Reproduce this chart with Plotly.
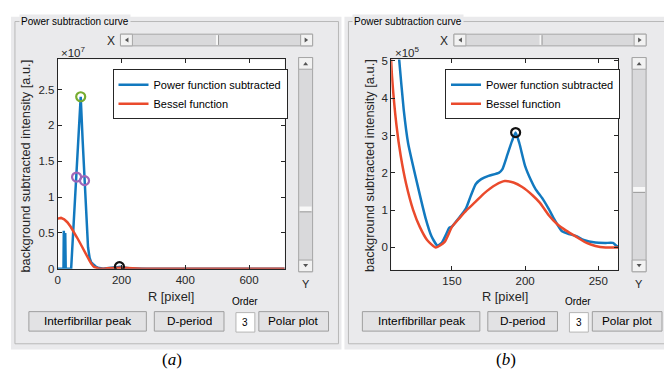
import plotly.graph_objects as go
import numpy as np

W, H = 664, 378

# ---------------- data (intensity in units of 1e5 a.u.) ----------------
r_blue = [0, 15, 18, 19, 20.5, 22, 23.5, 25, 42, 59, 65, 72, 78, 84, 90, 95, 100, 105,
          110, 114, 117, 120, 126.6, 132, 136, 140, 143, 146, 148, 150, 155, 159.5, 163,
          166.3, 170, 175, 182, 184.5, 188, 191, 193.5, 196, 200, 204, 207, 212, 216,
          220, 225, 230, 235, 240, 248, 255, 260, 263, 280, 350, 500, 712]
i_blue = [0, 0, 0, 53, 0, 0, 50, 0, 0, 128, 185, 240, 180, 123, 55, 30, 15, 9,
          6.8, 5.0, 3.7, 2.8, 1.65, 0.78, 0.3, 0.05, 0.12, 0.35, 0.52, 0.56, 0.8, 1.04, 1.4,
          1.7, 1.83, 1.92, 2.0, 2.1, 2.5, 2.85, 3.08, 2.8, 2.18, 1.8, 1.57, 1.3, 1.04,
          0.75, 0.44, 0.36, 0.3, 0.2, 0.13, 0.12, 0.12, 0.03, 0.02, 0.01, 0, 0]

r_bessel = [0, 10, 20, 30, 40, 50, 60, 70, 80, 90, 100, 105, 109, 112, 115, 118.7, 123.5,
            128, 133, 139, 145, 150, 155, 160, 166, 172, 180, 186, 192, 198, 205, 210,
            216, 222, 228, 236, 242, 248, 255, 263, 300, 400, 500, 600, 712]
i_bessel = [70, 71, 69, 65, 59, 52, 44, 36, 27, 19, 11, 7.5, 4.6, 3.3, 2.45, 1.7, 1.0,
            0.55, 0.2, 0.0, 0.15, 0.55, 0.78, 1.0, 1.22, 1.45, 1.68, 1.78, 1.74, 1.62, 1.4, 1.2,
            0.87, 0.62, 0.45, 0.26, 0.12, 0.04, 0.0, 0.0, 0, 0, 0, 0, 0]

r_green = [72]
i_green = [240]
r_purple = [59, 84]
i_purple = [128, 123]
r_black = [193.5]
i_black = [3.08]

xt_a = [0, 200, 400, 600]
yt_a = [0, 0.5, 1, 1.5, 2, 2.5]
ytl_a = ["0", "0.5", "1", "1.5", "2", "2.5"]
xt_b = [150, 200, 250]
yt_b = [0, 1, 2, 3, 4, 5]

BLUE = "#1279BF"
RED = "#EA4A2C"
GRAY_PANEL = "#EAEAEC"
FONT = "Liberation Sans, Arial, sans-serif"
TXT = "#262626"


def X(x):
    return x / W


def Y(y):
    return 1 - y / H


fig = go.Figure()

# left plot (x10^7)
s7 = np.array(i_blue) / 100.0
b7 = np.array(i_bessel) / 100.0
fig.add_trace(go.Scatter(x=r_blue, y=s7, mode="lines", name="Power function subtracted",
                         line=dict(color=BLUE, width=2.5), xaxis="x", yaxis="y", legend="legend"))
fig.add_trace(go.Scatter(x=r_bessel, y=b7, mode="lines", name="Bessel function",
                         line=dict(color=RED, width=2.5), xaxis="x", yaxis="y", legend="legend"))
fig.add_trace(go.Scatter(x=r_green, y=np.array(i_green) / 100.0, mode="markers", showlegend=False,
                         marker=dict(symbol="circle-open", size=9, color="#77AC30", line=dict(width=2.2)),
                         xaxis="x", yaxis="y"))
fig.add_trace(go.Scatter(x=r_purple, y=np.array(i_purple) / 100.0, mode="markers", showlegend=False,
                         marker=dict(symbol="circle-open", size=9, color="#A066B8", line=dict(width=2.2)),
                         xaxis="x", yaxis="y"))
fig.add_trace(go.Scatter(x=r_black, y=np.array(i_black) / 100.0, mode="markers", showlegend=False,
                         marker=dict(symbol="circle-open", size=9, color="#111111", line=dict(width=2.2)),
                         xaxis="x", yaxis="y"))

# right plot (x10^5)
fig.add_trace(go.Scatter(x=r_blue, y=i_blue, mode="lines", name="Power function subtracted",
                         line=dict(color=BLUE, width=2.5, shape="spline", smoothing=0.5),
                         xaxis="x2", yaxis="y2", legend="legend2"))
fig.add_trace(go.Scatter(x=r_bessel, y=i_bessel, mode="lines", name="Bessel function",
                         line=dict(color=RED, width=2.5, shape="spline", smoothing=0.6),
                         xaxis="x2", yaxis="y2", legend="legend2"))
fig.add_trace(go.Scatter(x=r_black, y=i_black, mode="markers", showlegend=False,
                         marker=dict(symbol="circle-open", size=9, color="#111111", line=dict(width=2.2)),
                         xaxis="x2", yaxis="y2"))

axis_common = dict(ticks="inside", ticklen=4, tickcolor=TXT, mirror="allticks", showline=True,
                   linecolor=TXT, linewidth=1, showgrid=False, zeroline=False,
                   tickfont=dict(family=FONT, size=11.5, color=TXT), fixedrange=True)

shapes = []


def rect(x0, y0, x1, y1, fill=None, line=None, lw=1):
    shapes.append(dict(type="rect", xref="paper", yref="paper", x0=X(x0), x1=X(x1), y0=Y(y1), y1=Y(y0),
                       fillcolor=fill if fill else "rgba(0,0,0,0)",
                       line=dict(color=line if line else "rgba(0,0,0,0)", width=lw if line else 0),
                       layer="below"))


def hline(x0, x1, y, color, lw=1):
    shapes.append(dict(type="line", xref="paper", yref="paper", x0=X(x0), x1=X(x1), y0=Y(y), y1=Y(y),
                       line=dict(color=color, width=lw), layer="below"))


def vline(x, y0, y1, color, lw=1):
    shapes.append(dict(type="line", xref="paper", yref="paper", x0=X(x), x1=X(x), y0=Y(y0), y1=Y(y1),
                       line=dict(color=color, width=lw), layer="below"))


def tri(pts, color="#555555"):
    d = "M " + " L ".join(f"{X(a):.5f},{Y(b):.5f}" for a, b in pts) + " Z"
    shapes.append(dict(type="path", xref="paper", yref="paper", path=d, fillcolor=color,
                       line=dict(width=0), layer="below"))


annotations = []


def text(x, y, s, size=11, xanchor="center", yanchor="middle", color="#000000", family=FONT,
         bg=None, angle=0):
    a = dict(x=X(x), y=Y(y), xref="paper", yref="paper", text=s, showarrow=False,
             xanchor=xanchor, yanchor=yanchor, font=dict(family=family, size=size, color=color),
             textangle=angle)
    if bg:
        a["bgcolor"] = bg
        a["borderpad"] = 1
    annotations.append(a)


def panel(ox, right_edge, thumb_x, thumb_y, caption):
    rect(ox + 8, 13, right_edge, 355, fill=GRAY_PANEL)
    rect(ox + 12, 18, ox + 337 if ox == 0 else 680, 349, line="#B8B8B8", lw=1)
    rect(ox + 55, 57, ox + 283, 272 if ox == 0 else 273, fill="#FFFFFF")
    text(ox + 16, 18, "Power subtraction curve", size=10, xanchor="left", bg=GRAY_PANEL)
    # horizontal scrollbar
    rect(ox + 118, 31, ox + 311, 43, fill="#D9D9DB", line="#A6A6A6")
    rect(ox + 118, 31, ox + 130, 43, fill="#F2F2F2", line="#A6A6A6")
    rect(ox + 299, 31, ox + 311, 43, fill="#F2F2F2", line="#A6A6A6")
    tri([(ox + 126, 34.5), (ox + 122.5, 37), (ox + 126, 39.5)])
    tri([(ox + 303, 34.5), (ox + 306.5, 37), (ox + 303, 39.5)])
    vline(ox + thumb_x, 32, 42, "#F8F8F8", 2)
    vline(ox + thumb_x + 1.5, 32, 42, "#9A9A9A", 1)
    text(ox + 108, 38, "X", size=12, color=TXT)
    # vertical scrollbar
    rect(ox + 297, 55, ox + 311, 275, fill="#D9D9DB", line="#A6A6A6")
    rect(ox + 297, 55, ox + 311, 67, fill="#F2F2F2", line="#A6A6A6")
    rect(ox + 297, 263, ox + 311, 275, fill="#F2F2F2", line="#A6A6A6")
    tri([(ox + 301.5, 63), (ox + 304, 59.5), (ox + 306.5, 63)])
    tri([(ox + 301.5, 267), (ox + 304, 270.5), (ox + 306.5, 267)])
    rect(ox + 298, thumb_y - 3, ox + 310, thumb_y + 2, fill="#F8F8F8")
    hline(ox + 298, ox + 310, thumb_y + 2.5, "#9A9A9A", 1)
    text(ox + 304, 288, "Y", size=11, color=TXT)
    text(ox + 169, 300, "R [pixel]", size=12.8, color=TXT)
    for x0, x1, lab in [(26, 144, "Interfibrillar peak"), (152, 222, "D-period"), (257, 327, "Polar plot")]:
        rect(ox + x0, 316, ox + x1, 336, fill="#E2E2E4", line="#9E9E9E")
        text(ox + (x0 + x1) / 2, 326, lab, size=11.8)
    rect(ox + 234, 317, ox + 253, 337, fill="#FFFFFF", line="#B5B5B5")
    text(ox + 243.5, 327.5, "3", size=10)
    text(ox + 243, 306, "Order", size=10)
    text(ox + 170, 365, caption, size=17, family="Liberation Serif, Times New Roman, serif")


panel(0, 340, 215, 211, "(<i>a</i>)")
panel(335, 664, 205, 191, "(<i>b</i>)")

text(23, 166, "background subtracted intensity [a.u.]", size=12.8, color=TXT, angle=-90)
text(368, 166, "background subtracted intensity [a.u.]", size=12.8, color=TXT, angle=-90)
text(56, 49, "×10<sup>7</sup>", size=11.5, xanchor="left", color=TXT)
text(392, 49, "×10<sup>5</sup>", size=11.5, xanchor="left", color=TXT)

legend_common = dict(bgcolor="#FFFFFF", bordercolor=TXT, borderwidth=1, xanchor="left", yanchor="top",
                     font=dict(family=FONT, size=11, color="#000000"), itemwidth=30,
                     tracegroupgap=0)

fig.update_layout(
    width=W, height=H, margin=dict(l=0, r=0, t=0, b=0),
    paper_bgcolor="#FFFFFF", plot_bgcolor="rgba(0,0,0,0)",
    xaxis=dict(domain=[X(55), X(283)], range=[0, 712], tickvals=xt_a, anchor="y", **axis_common),
    yaxis=dict(domain=[Y(272), Y(57)], range=[0, 2.92], tickvals=yt_a, ticktext=ytl_a, anchor="x",
               **axis_common),
    xaxis2=dict(domain=[X(390), X(618)], range=[108.5, 263.6], tickvals=xt_b, anchor="y2", **axis_common),
    yaxis2=dict(domain=[Y(273), Y(57)], range=[-0.6, 5.04], tickvals=yt_b, anchor="x2", **axis_common),
    legend=dict(x=X(110), y=Y(67), **legend_common),
    legend2=dict(x=X(444), y=Y(67), **legend_common),
    shapes=shapes, annotations=annotations, showlegend=True,
)

fig.write_html("out.html")
